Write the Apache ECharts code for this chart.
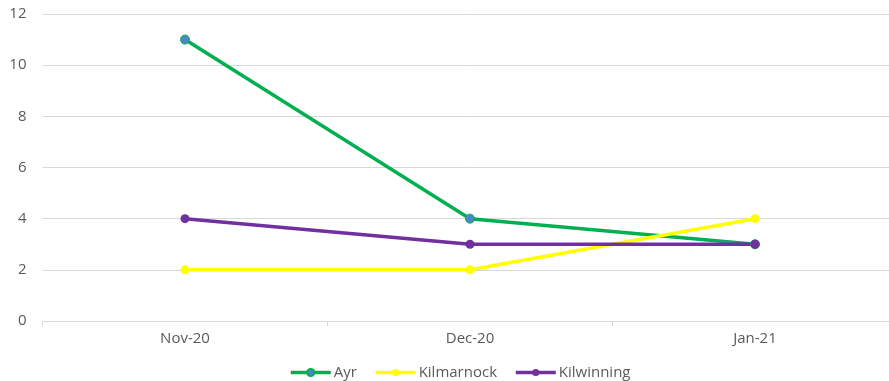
<!DOCTYPE html>
<html>
<head>
<meta charset="utf-8">
<script src="https://cdn.jsdelivr.net/npm/echarts@6/dist/echarts.min.js"></script>
<style>
  html, body { margin: 0; padding: 0; background: #ffffff; }
  #chart { width: 889px; height: 381px; }
</style>
</head>
<body>
<div id="chart"></div>
<script>
// Monthly counts per town
const months = ['Nov-20', 'Dec-20', 'Jan-21'];
const ayr = [11, 4, 3];
const kilmarnock = [2, 2, 4];
const kilwinning = [4, 3, 3];
const yTicks = [0, 2, 4, 6, 8, 10, 12];

const FONT = '"Open Sans", "Liberation Sans", sans-serif';
const chart = echarts.init(document.getElementById('chart'), null, { renderer: 'canvas' });

function lineSeries(name, data, color, markerFill) {
  return {
    name: name,
    type: 'line',
    data: data,
    symbol: 'circle',
    symbolSize: 9,
    lineStyle: { color: color, width: 3.5 },
    itemStyle: { color: markerFill || color, borderColor: color, borderWidth: markerFill ? 1 : 0 },
    emphasis: { disabled: true },
    animation: false
  };
}

chart.setOption({
  animation: false,
  // plot area runs slightly past the right edge of the canvas
  grid: { left: 42.5, width: 855, top: 14, bottom: 60, containLabel: false, outerBoundsMode: 'none' },
  legend: {
    top: 360,
    left: 284,
    itemWidth: 40,
    itemHeight: 9,
    itemGap: 17,
    lineStyle: { width: 3.5 },
    textStyle: { color: '#595959', fontSize: 15, fontFamily: FONT, padding: [0, 0, 0, -2] },
    data: ['Ayr', 'Kilmarnock', 'Kilwinning']
  },
  xAxis: {
    type: 'category',
    data: months,
    boundaryGap: true,
    axisLine: { lineStyle: { color: '#d9d9d9', width: 1 } },
    axisTick: { show: true, length: 5, lineStyle: { color: '#d9d9d9' } },
    axisLabel: { color: '#595959', fontSize: 15, fontFamily: FONT, margin: 10 }
  },
  yAxis: {
    type: 'value',
    min: yTicks[0],
    max: yTicks[yTicks.length - 1],
    interval: 2,
    axisLine: { show: false },
    axisTick: { show: false },
    axisLabel: { color: '#595959', fontSize: 15, fontFamily: FONT, margin: 16 },
    splitLine: { lineStyle: { color: '#d9d9d9', width: 1 } }
  },
  series: [
    lineSeries('Ayr', ayr, '#00b050', '#4a86c8'),
    lineSeries('Kilmarnock', kilmarnock, '#ffff00'),
    lineSeries('Kilwinning', kilwinning, '#7030a0')
  ]
});
</script>
</body>
</html>
